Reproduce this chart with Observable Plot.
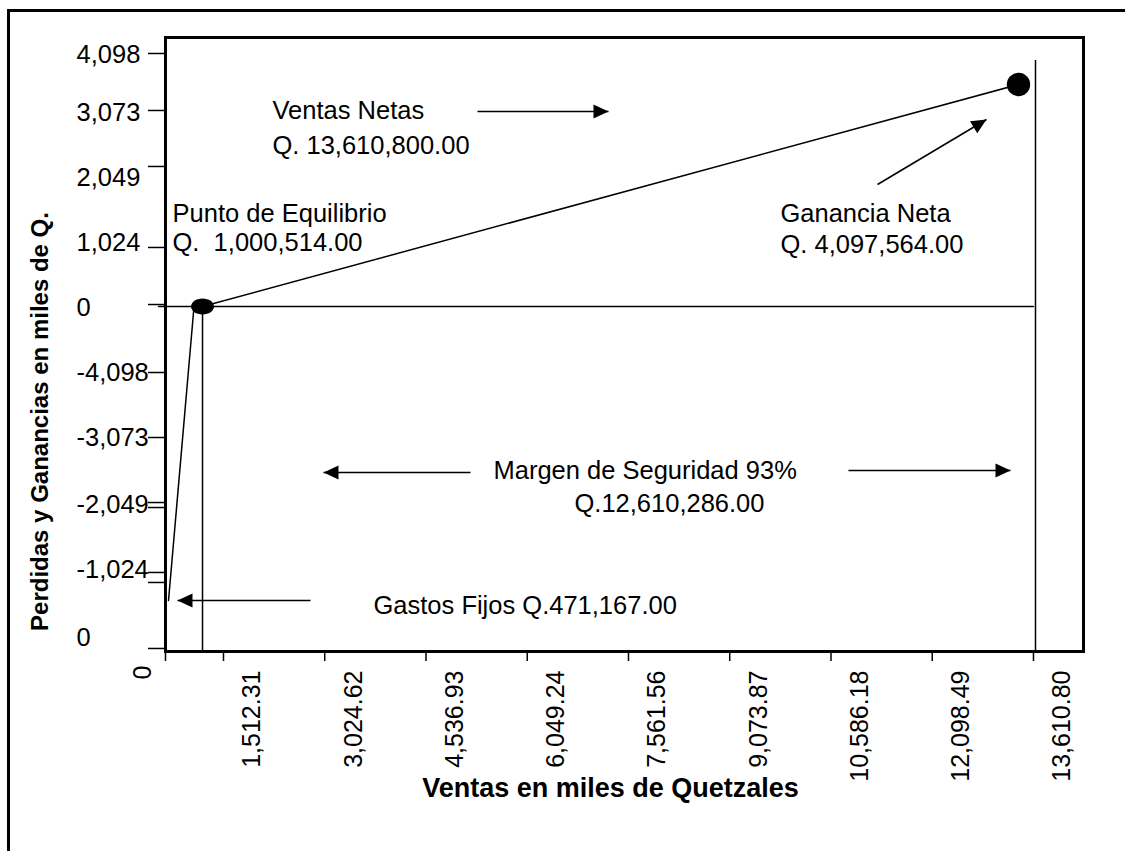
<!DOCTYPE html>
<html>
<head>
<meta charset="utf-8">
<script src="https://cdn.jsdelivr.net/npm/d3@7"></script>
<script src="https://cdn.jsdelivr.net/npm/@observablehq/plot@0.6"></script>
<style>
  html, body { margin: 0; padding: 0; background: #fff; }
  #wrap { position: relative; width: 1125px; height: 851px; overflow: hidden; }
  #outer { position: absolute; left: 7px; top: 9px; width: 1200px; height: 900px;
           border-left: 3px solid #000; border-top: 3px solid #000; pointer-events: none; }
</style>
</head>
<body>
<div id="wrap"><div id="outer"></div></div>
<script>
// ---- data (thousands of Quetzales) ----
const xTickValues = [646, 1512.31, 3024.62, 4536.93, 6049.24, 7561.56, 9073.87, 10586.18, 12098.49, 13610.80];
const xTickLabels = ["0", "1,512.31", "3,024.62", "4,536.93", "6,049.24", "7,561.56", "9,073.87", "10,586.18", "12,098.49", "13,610.80"];

const yTickValues = [4098, 3175, 2268, 956, 32, -1069, -2122, -3175, -3256, -4308, -4470, -5539];
const yLabelValues = [4082, 3142, 2089, 1037, -16, -1069, -2122, -3207, -4260, -5361];
const yLabels = ["4,098", "3,073", "2,049", "1,024", "0", "-4,098", "-3,073", "-2,049", "-1,024", "0"];

const lossLine = [{x: 691, y: -4762}, {x: 1072, y: 0}];
const profitLine = [{x: 1199, y: 0}, {x: 13387, y: 3596}];
const zeroLine = [{x: 541, y: 0}, {x: 13611, y: 0}];
const verticals = [{x: 1199, y1: 0, y2: -5588}, {x: 13641, y1: 3984, y2: -5588}];
const equilibrio = [{x: 1199, y: 0}];
const ganancia = [{x: 13387, y: 3596}];

const arrowsRight = [{x1: 5306, y1: 3158, x2: 7263, y2: 3158}, {x1: 10848, y1: -2656, x2: 13268, y2: -2656}];
const arrowsLeft = [{x1: 5202, y1: -2689, x2: 3006, y2: -2689}, {x1: 2812, y1: -4762, x2: 825, y2: -4762}];
const arrowsDiag = [{x1: 11281, y1: 1976, x2: 12909, y2: 3029}];

const notes = [
  {x: 2244, y: 3175, text: "Ventas Netas"},
  {x: 2244, y: 2608, text: "Q. 13,610,800.00"},
  {x: 751, y: 1506, text: "Punto de Equilibrio"},
  {x: 751, y: 1037, text: "Q.  1,000,514.00"},
  {x: 9832, y: 1506, text: "Ganancia Neta"},
  {x: 9832, y: 1004, text: "Q. 4,097,564.00"},
  {x: 5545, y: -2656, text: "Margen de Seguridad 93%"},
  {x: 6755, y: -3191, text: "Q.12,610,286.00"},
  {x: 3753, y: -4843, text: "Gastos Fijos Q.471,167.00"}
];
const xTitle = "Ventas en miles de Quetzales";
const yTitle = "Perdidas y Ganancias en miles de Q.";

// ---- symbols ----
function head(angleDeg, L = 15, W = 14) {
  const t = angleDeg * Math.PI / 180, c = Math.cos(t), s = Math.sin(t);
  return {draw(ctx) {
    const bx = -L * c, by = -L * s, px = -s * W / 2, py = c * W / 2;
    ctx.moveTo(0, 0); ctx.lineTo(bx + px, by + py); ctx.lineTo(bx - px, by - py); ctx.closePath();
  }};
}
const ellipse = {draw(ctx) {
  const rx = 11.5, ry = 8, k = 0.5523;
  ctx.moveTo(rx, 0);
  ctx.bezierCurveTo(rx, ry * k, rx * k, ry, 0, ry);
  ctx.bezierCurveTo(-rx * k, ry, -rx, ry * k, -rx, 0);
  ctx.bezierCurveTo(-rx, -ry * k, -rx * k, -ry, 0, -ry);
  ctx.bezierCurveTo(rx * k, -ry, rx, -ry * k, rx, 0);
  ctx.closePath();
}};

const FS = 25.5;
const lw = 1.5;

const chart = Plot.plot({
  width: 1125,
  height: 851,
  marginLeft: 165,
  marginRight: 42,
  marginTop: 37,
  marginBottom: 200,
  style: {fontFamily: "'Liberation Sans', Arial, sans-serif", background: "#fff", color: "#000"},
  x: {domain: [646, 14358], axis: null},
  y: {domain: [-5588, 4357], axis: null},
  marks: [
    Plot.axisX(xTickValues, {tickSize: 10, tickFormat: () => "", strokeWidth: 1.5}),
    Plot.axisY(yTickValues, {tickSize: 17, tickFormat: () => "", strokeWidth: 1.5}),
    Plot.text(xTickValues.slice(1), {x: d => d, text: (d, i) => xTickLabels[i + 1], frameAnchor: "bottom",
      rotate: -90, textAnchor: "end", dx: 37, dy: 19, fontSize: 25}),
    Plot.text(xTickValues.slice(0, 1), {x: d => d, text: () => xTickLabels[0], frameAnchor: "bottom",
      rotate: -90, textAnchor: "end", dx: -15, dy: 14, fontSize: 25}),
    Plot.text(yLabelValues, {y: d => d, text: (d, i) => yLabels[i], frameAnchor: "left",
      textAnchor: "start", dx: -89, fontSize: FS}),
    Plot.line(zeroLine, {x: "x", y: "y", stroke: "black", strokeWidth: lw}),
    Plot.ruleX(verticals, {x: "x", y1: "y1", y2: "y2", stroke: "black", strokeWidth: lw}),
    Plot.line(lossLine, {x: "x", y: "y", stroke: "black", strokeWidth: lw}),
    Plot.line(profitLine, {x: "x", y: "y", stroke: "black", strokeWidth: lw}),
    Plot.dot(equilibrio, {x: "x", y: "y", symbol: ellipse, fill: "black", stroke: "none"}),
    Plot.dot(ganancia, {x: "x", y: "y", r: 11.7, fill: "black", stroke: "none"}),
    Plot.link([...arrowsRight, ...arrowsLeft, ...arrowsDiag], {x1: "x1", y1: "y1", x2: "x2", y2: "y2", stroke: "black", strokeWidth: lw}),
    Plot.dot(arrowsRight, {x: "x2", y: "y2", symbol: head(0), fill: "black", stroke: "none"}),
    Plot.dot(arrowsLeft, {x: "x2", y: "y2", symbol: head(180), fill: "black", stroke: "none"}),
    Plot.dot(arrowsDiag, {x: "x2", y: "y2", symbol: head(-31), fill: "black", stroke: "none"}),
    Plot.text(notes, {x: "x", y: "y", text: "text", textAnchor: "start", fontSize: FS, fill: "black"}),
    Plot.text([xTitle], {text: d => d, frameAnchor: "bottom", dx: -14, dy: 145, fontSize: 27, fontWeight: "bold"}),
    Plot.text([yTitle], {text: d => d, frameAnchor: "left", dx: -125, dy: 77, rotate: -90, textAnchor: "middle", fontSize: 24, fontWeight: "bold"}),
    Plot.frame({stroke: "black", strokeWidth: 3})
  ]
});
document.getElementById("wrap").insertBefore(chart, document.getElementById("outer"));
chart.style.position = "absolute";
chart.style.left = "0px";
chart.style.top = "0px";
</script>
</body>
</html>
